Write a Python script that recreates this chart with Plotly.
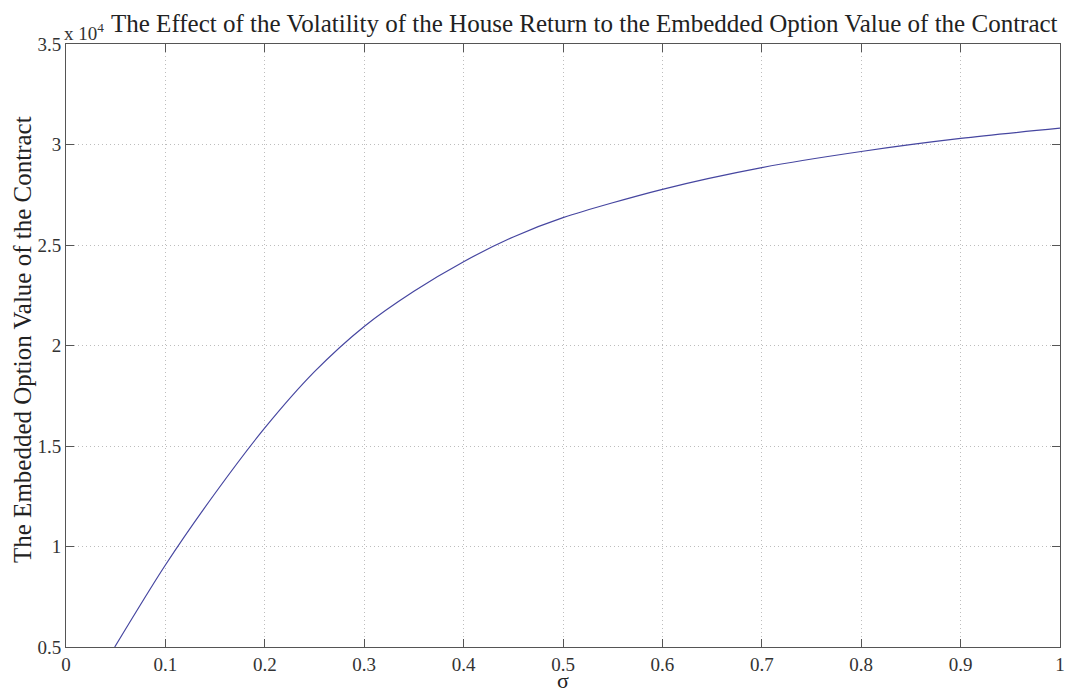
import plotly.graph_objects as go

# Volatility of the house return (sigma)
sigma = [0.049, 0.10, 0.15, 0.20, 0.25, 0.30, 0.35, 0.40, 0.45, 0.50,
         0.60, 0.70, 0.80, 0.90, 1.00]
# Embedded option value of the contract
option_value = [5000, 9080, 12650, 15900, 18700, 20950, 22700, 24170, 25400, 26360,
                27770, 28850, 29650, 30300, 30810]

y_ticks = [5000, 10000, 15000, 20000, 25000, 30000, 35000]
y_ticktext = ["0.5", "1", "1.5", "2", "2.5", "3", "3.5"]
x_ticks = [0, 0.1, 0.2, 0.3, 0.4, 0.5, 0.6, 0.7, 0.8, 0.9, 1]
x_ticktext = ["0", "0.1", "0.2", "0.3", "0.4", "0.5", "0.6", "0.7", "0.8", "0.9", "1"]

title_text = "The Effect of the Volatility of the House Return to the Embedded Option Value of the Contract"
y_title = "The Embedded Option Value of the Contract"
x_title = "σ"
font_family = "Liberation Serif, Times New Roman, serif"

W, H = 1066, 694
L, R, T, B = 66, 6, 44, 47
plot_w = W - L - R
plot_h = H - T - B

def px_x(px):
    return (px - L) / plot_w

def px_y(py):
    return (H - B - py) / plot_h

fig = go.Figure()
fig.add_trace(go.Scatter(
    x=sigma, y=option_value, mode="lines",
    line=dict(color="#4646a0", width=1.2, shape="spline", smoothing=0.8),
    showlegend=False, hoverinfo="skip",
))

axis_common = dict(
    showline=True, linecolor="#555555", linewidth=1, mirror="ticks",
    ticks="inside", ticklen=8, tickcolor="#555555", tickwidth=1,
    showgrid=True, gridcolor="#bdbdbd", griddash="1px,3px", gridwidth=1,
    zeroline=False, automargin=False, ticklabeloverflow="allow",
    tickfont=dict(family=font_family, size=19, color="#333333"),
)

fig.update_layout(
    width=W, height=H,
    margin=dict(l=L, r=R, t=T, b=B),
    paper_bgcolor="white", plot_bgcolor="white",
    font=dict(family=font_family, color="#222222"),
    xaxis=dict(range=[0, 1], tickvals=x_ticks, ticktext=x_ticktext, **axis_common),
    yaxis=dict(range=[5000, 35000], tickvals=y_ticks, ticktext=y_ticktext, **axis_common),
    annotations=[
        dict(text=title_text, x=px_x(584), xref="paper", y=px_y(23), yref="paper",
             showarrow=False, font=dict(family=font_family, size=25, color="#222222"),
             xanchor="center", yanchor="middle"),
        dict(text="x 10<sup>4</sup>", x=px_x(62), xref="paper", y=px_y(32), yref="paper",
             showarrow=False, font=dict(family=font_family, size=19, color="#333333"),
             xanchor="left", yanchor="middle"),
        dict(text=y_title, x=px_x(22), xref="paper", y=px_y(340), yref="paper",
             showarrow=False, textangle=-90,
             font=dict(family=font_family, size=25, color="#222222"),
             xanchor="center", yanchor="middle"),
        dict(text=x_title, x=px_x(563), xref="paper", y=px_y(694), yref="paper",
             showarrow=False, font=dict(family=font_family, size=22, color="#222222"),
             xanchor="center", yanchor="bottom", borderpad=0),
    ],
)

fig.write_html(
    "out.html",
    config={"displayModeBar": False},
    post_script="document.body.style.margin='0';document.body.style.overflow='hidden';",
)
